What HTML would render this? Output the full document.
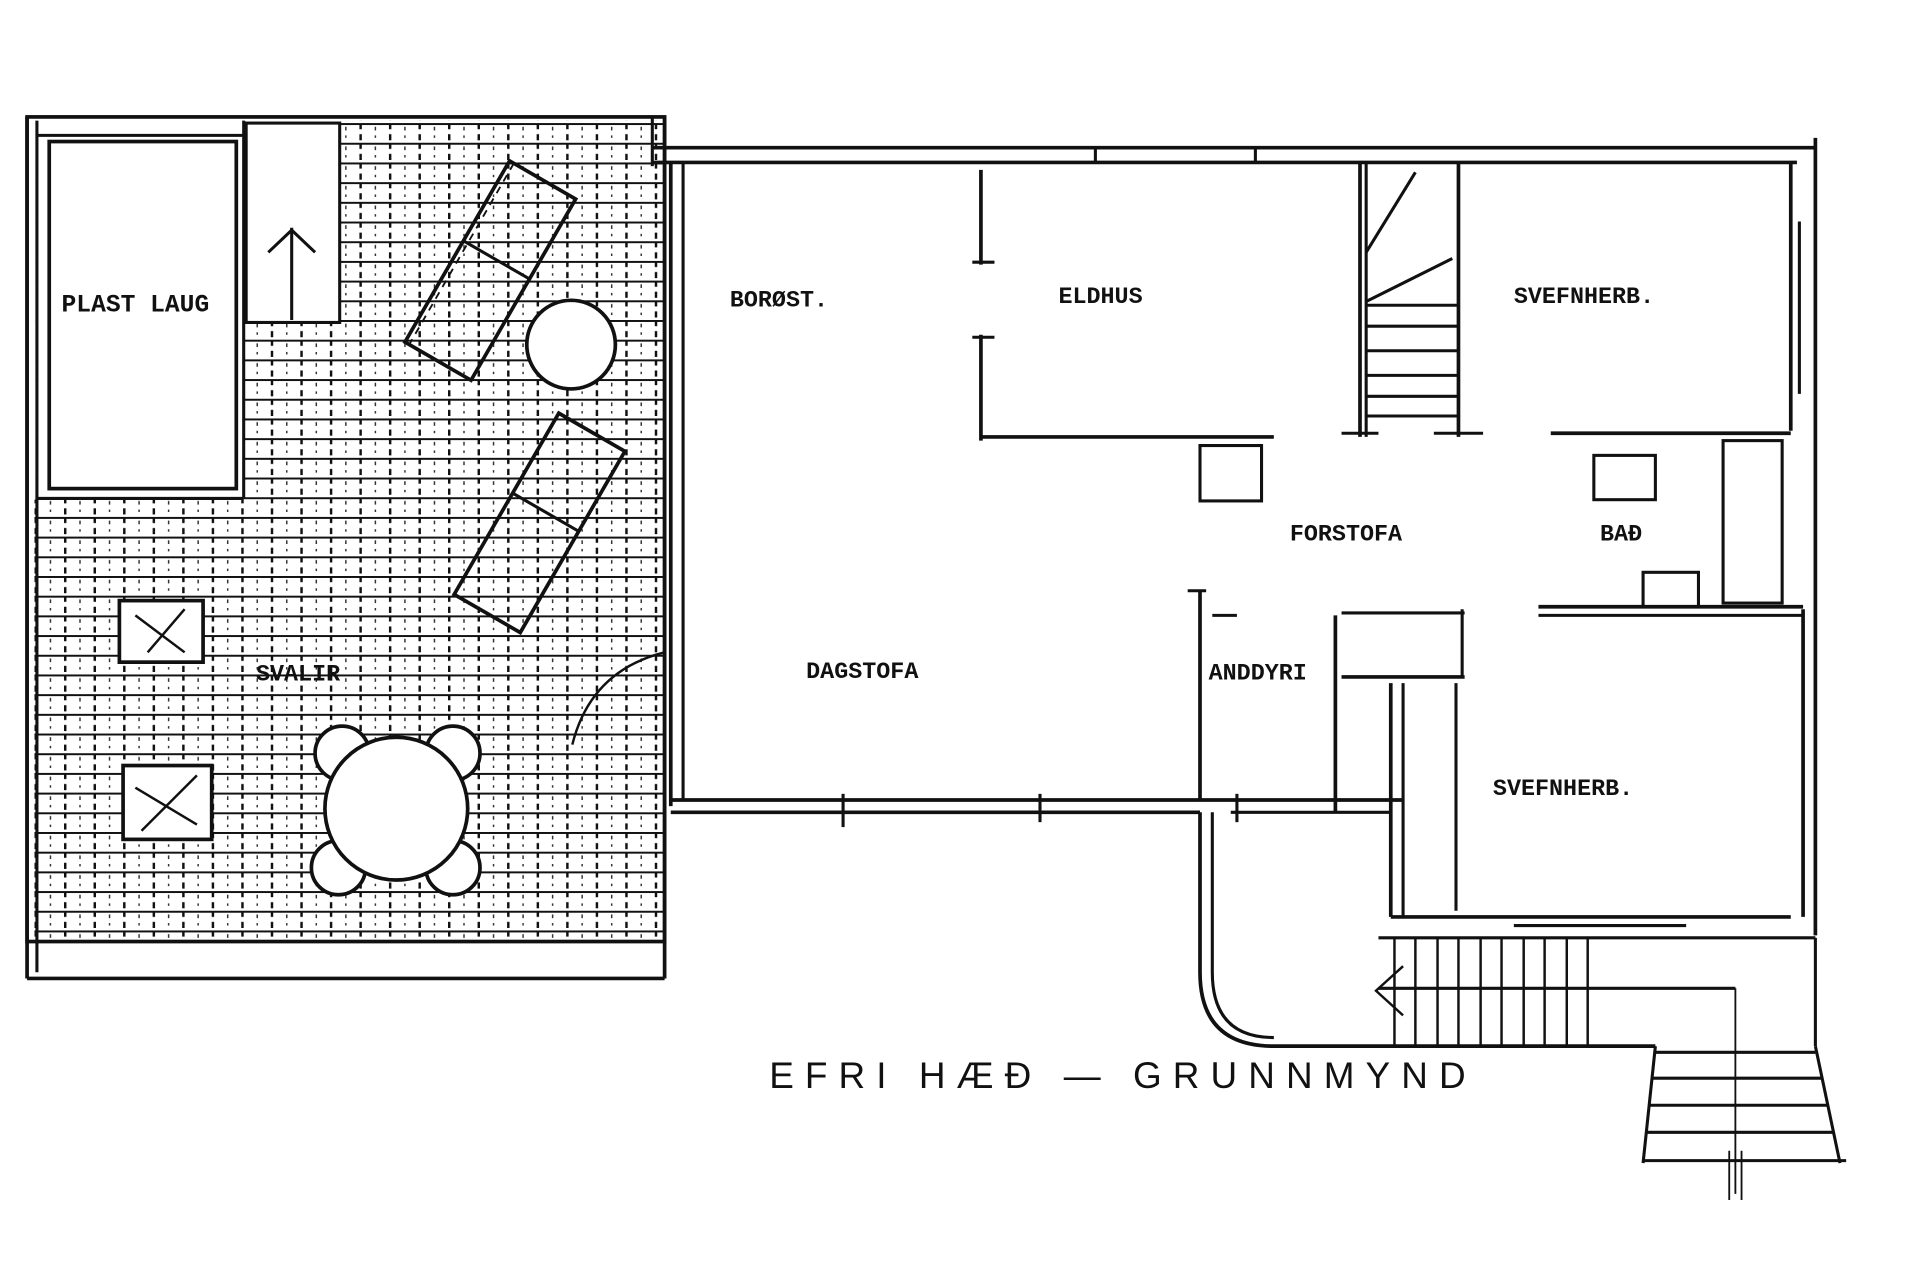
<!DOCTYPE html>
<html><head><meta charset="utf-8"><style>
html,body{margin:0;padding:0;background:#fff;}
svg{display:block;}
text{font-family:"Liberation Mono","DejaVu Sans Mono",monospace;font-weight:bold;fill:#111;}
</style></head><body>
<svg width="1920" height="1280" viewBox="0 0 1560 1040" preserveAspectRatio="none" xmlns="http://www.w3.org/2000/svg">
<defs>
<pattern id="tile" x="28" y="100" width="24" height="16" patternUnits="userSpaceOnUse">
<line x1="0" y1="0.5" x2="24" y2="0.5" stroke="#111" stroke-width="2.2"/>
<line x1="1" y1="0" x2="1" y2="16" stroke="#111" stroke-width="2" stroke-dasharray="5 4"/>
<line x1="13" y1="3" x2="13" y2="12" stroke="#333" stroke-width="1.2" stroke-dasharray="3 4"/>
</pattern>
</defs>
<rect width="1560" height="1040" fill="#fff"/>
<g stroke="#111" fill="none" stroke-width="2.5">
<!-- terrace tiles -->
<rect x="28" y="98" width="512" height="668" fill="url(#tile)" stroke="none"/>
<rect x="28" y="96" width="170" height="310" fill="#fff" stroke="none"/>
<rect x="200" y="96" width="76" height="166" fill="#fff" stroke="none"/>
<!-- terrace outline -->
<rect x="22" y="95" width="518" height="670" stroke-width="3"/>
<line x1="22" y1="95" x2="22" y2="795" stroke-width="3"/>
<line x1="30" y1="98" x2="30" y2="790"/>
<line x1="22" y1="795" x2="540" y2="795" stroke-width="3"/>
<line x1="540" y1="95" x2="540" y2="795" stroke-width="3"/>
<line x1="30" y1="110" x2="198" y2="110"/>
<rect x="40" y="115" width="152" height="282" stroke-width="3"/>
<line x1="198" y1="98" x2="198" y2="405"/>
<line x1="30" y1="405" x2="198" y2="405"/>
<rect x="200" y="100" width="76" height="162"/>
<line x1="237" y1="185" x2="237" y2="260"/><path d="M218 205 L237 187 L256 205"/>
<!-- loungers -->
<g transform="translate(400,215) rotate(30)"><rect x="-30" y="-80" width="62" height="170" stroke-width="3"/><line x1="-30" y1="-5" x2="32" y2="-5"/><line x1="-26" y1="-80" x2="-26" y2="90" stroke-dasharray="6 5" stroke-width="1.5"/></g>
<g transform="translate(440,420) rotate(30)"><rect x="-30" y="-80" width="62" height="170" stroke-width="3"/><line x1="-30" y1="-5" x2="32" y2="-5"/></g>
<circle cx="464" cy="280" r="36" fill="#fff" stroke-width="3"/>
<!-- table -->
<circle cx="278" cy="612" r="22" fill="#fff" stroke-width="3"/>
<circle cx="368" cy="612" r="22" fill="#fff" stroke-width="3"/>
<circle cx="275" cy="705" r="22" fill="#fff" stroke-width="3"/>
<circle cx="368" cy="705" r="22" fill="#fff" stroke-width="3"/>
<circle cx="322" cy="657" r="58" fill="#fff" stroke-width="3"/>
<rect x="97" y="488" width="68" height="50" fill="#fff" stroke-width="3"/>
<rect x="100" y="622" width="72" height="60" fill="#fff" stroke-width="3"/>
<path d="M110 500 l40 30 M120 530 l30 -35 M110 640 l50 30 M115 675 l45 -45" stroke-width="2"/>
<!-- door swing -->
<path d="M465 605 Q480 545 540 530" stroke-width="2"/>
<line x1="540" y1="530" x2="540" y2="605"/>
<!-- house outer walls -->
<line x1="530" y1="120" x2="1475" y2="120" stroke-width="3"/>
<line x1="530" y1="132" x2="1460" y2="132" stroke-width="3"/>
<line x1="890" y1="120" x2="890" y2="132"/>
<line x1="1020" y1="120" x2="1020" y2="132"/>
<line x1="545" y1="132" x2="545" y2="655" stroke-width="3"/>
<line x1="555" y1="132" x2="555" y2="650"/>
<line x1="530" y1="95" x2="530" y2="135"/>
<line x1="545" y1="650" x2="1140" y2="650" stroke-width="3"/>
<line x1="545" y1="660" x2="975" y2="660" stroke-width="3"/>
<line x1="1000" y1="660" x2="1130" y2="660"/>
<line x1="685" y1="645" x2="685" y2="672"/><line x1="845" y1="645" x2="845" y2="668"/><line x1="1005" y1="645" x2="1005" y2="668"/>
<line x1="1475" y1="112" x2="1475" y2="760" stroke-width="3"/>
<line x1="1455" y1="132" x2="1455" y2="350" stroke-width="3"/>
<line x1="1462" y1="180" x2="1462" y2="320"/>
<line x1="1465" y1="495" x2="1465" y2="745" stroke-width="3"/>
<line x1="1455" y1="745" x2="1130" y2="745" stroke-width="3"/>
<line x1="1230" y1="752" x2="1370" y2="752"/>
<line x1="1130" y1="555" x2="1130" y2="745" stroke-width="3"/>
<line x1="1140" y1="555" x2="1140" y2="745"/>
<line x1="1183" y1="555" x2="1183" y2="740"/>
<line x1="1090" y1="550" x2="1190" y2="550" stroke-width="3"/>
<line x1="1090" y1="498" x2="1190" y2="498"/>
<line x1="1085" y1="500" x2="1085" y2="660" stroke-width="3"/>
<line x1="1188" y1="495" x2="1188" y2="550"/>
<line x1="975" y1="480" x2="975" y2="650" stroke-width="3"/>
<line x1="965" y1="480" x2="980" y2="480"/><line x1="985" y1="500" x2="1005" y2="500"/>
<!-- eldhus -->
<line x1="797" y1="138" x2="797" y2="215" stroke-width="3"/>
<line x1="797" y1="272" x2="797" y2="358" stroke-width="3"/>
<line x1="797" y1="355" x2="1035" y2="355" stroke-width="3"/>
<line x1="790" y1="213" x2="808" y2="213"/><line x1="790" y1="274" x2="808" y2="274"/>
<rect x="975" y="362" width="50" height="45"/>
<!-- stairs -->
<line x1="1105" y1="132" x2="1105" y2="355" stroke-width="3"/>
<line x1="1110" y1="132" x2="1110" y2="355"/>
<line x1="1185" y1="132" x2="1185" y2="355" stroke-width="3"/>
<line x1="1090" y1="352" x2="1120" y2="352"/><line x1="1165" y1="352" x2="1205" y2="352"/>
<line x1="1110" y1="205" x2="1150" y2="140"/><line x1="1110" y1="245" x2="1180" y2="210"/>
<g stroke-width="2.5"><line x1="1110" y1="265" x2="1185" y2="265"/><line x1="1110" y1="285" x2="1185" y2="285"/><line x1="1110" y1="305" x2="1185" y2="305"/><line x1="1110" y1="322" x2="1185" y2="322"/><line x1="1110" y1="338" x2="1185" y2="338"/></g>
<line x1="1110" y1="248" x2="1185" y2="248"/>
<!-- bath -->
<line x1="1260" y1="352" x2="1455" y2="352" stroke-width="3"/>
<line x1="1250" y1="493" x2="1465" y2="493" stroke-width="3"/>
<line x1="1250" y1="500" x2="1465" y2="500"/>
<rect x="1400" y="358" width="48" height="132"/>
<rect x="1295" y="370" width="50" height="36"/>
<rect x="1335" y="465" width="45" height="28"/>
<!-- bottom stairs -->
<path d="M975 660 L975 790 Q975 850 1035 850 L1345 850" stroke-width="3"/>
<path d="M985 660 L985 790 Q985 843 1035 843"/>
<line x1="1120" y1="762" x2="1475" y2="762"/>
<line x1="1475" y1="762" x2="1475" y2="850"/>
<g stroke-width="2"><line x1="1133" y1="762" x2="1133" y2="850"/><line x1="1150" y1="762" x2="1150" y2="850"/><line x1="1168" y1="762" x2="1168" y2="850"/><line x1="1185" y1="762" x2="1185" y2="850"/><line x1="1203" y1="762" x2="1203" y2="850"/><line x1="1220" y1="762" x2="1220" y2="850"/><line x1="1238" y1="762" x2="1238" y2="850"/><line x1="1255" y1="762" x2="1255" y2="850"/><line x1="1273" y1="762" x2="1273" y2="850"/><line x1="1290" y1="762" x2="1290" y2="850"/></g>
<line x1="1120" y1="803" x2="1410" y2="803"/>
<line x1="1410" y1="803" x2="1410" y2="970" stroke-width="1.5"/>
<path d="M1140 785 L1118 805 L1140 825" stroke-width="2"/>
<line x1="1345" y1="850" x2="1335" y2="945"/>
<line x1="1475" y1="850" x2="1495" y2="945"/>
<g stroke-width="2.5"><line x1="1345" y1="855" x2="1475" y2="855"/><line x1="1342" y1="876" x2="1480" y2="876"/><line x1="1340" y1="898" x2="1485" y2="898"/><line x1="1338" y1="920" x2="1490" y2="920"/><line x1="1335" y1="943" x2="1500" y2="943"/></g>
<line x1="1405" y1="935" x2="1405" y2="975" stroke-width="1.5"/><line x1="1415" y1="935" x2="1415" y2="975" stroke-width="1.5"/>
</g>
<g font-size="19">
<text x="50" y="253" font-size="20">PLAST LAUG</text>
<text x="593" y="249">BORØST.</text>
<text x="860" y="246">ELDHUS</text>
<text x="1230" y="246">SVEFNHERB.</text>
<text x="1048" y="439">FORSTOFA</text>
<text x="1300" y="439">BAÐ</text>
<text x="655" y="551">DAGSTOFA</text>
<text x="982" y="552">ANDDYRI</text>
<text x="208" y="553">SVALIR</text>
<text x="1213" y="646">SVEFNHERB.</text>
</g>
<text x="625" y="884" font-size="30" font-weight="normal" letter-spacing="9" style="font-family:'Liberation Sans',sans-serif;font-weight:normal">EFRI HÆÐ — GRUNNMYND</text>
</svg>
</body></html>
